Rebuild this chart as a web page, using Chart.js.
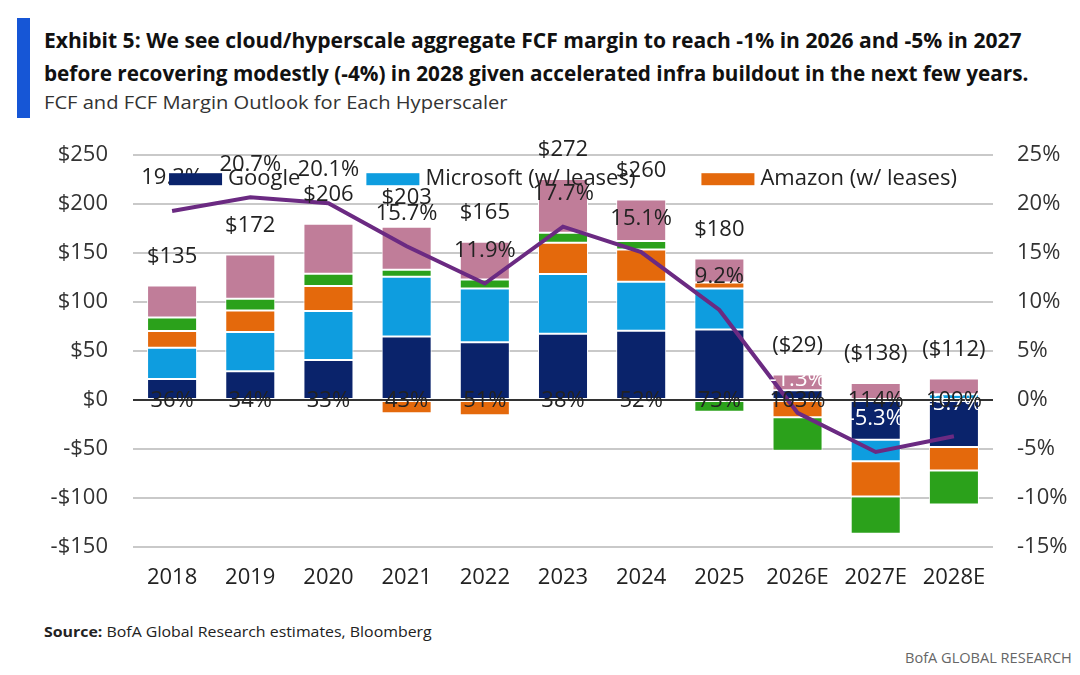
<!DOCTYPE html>
<html>
<head>
<meta charset="utf-8">
<script src="https://cdn.jsdelivr.net/npm/chart.js@4.4.1/dist/chart.umd.min.js"></script>
<style>
  body { margin: 0; background: #fff; width: 1080px; height: 675px; position: relative; overflow: hidden; font-family: 'Open Sans', sans-serif; color: #111; }
  .fit { position: absolute; white-space: nowrap; transform-origin: 0 50%; }
  #accent { position: absolute; left: 17px; top: 18px; width: 13px; height: 100px; background: #1656d6; }
  #t1, #t2 { left: 44px; font-size: 21px; font-weight: 700; line-height: 30px; }
  #t1 { top: 25px; }
  #t2 { top: 58px; }
  #sub { left: 44px; top: 89px; font-size: 19px; line-height: 26px; color: #333; }
  #source { left: 44px; top: 622px; font-size: 14.5px; line-height: 20px; color: #222; }
  #brand { top: 647px; font-size: 15px; line-height: 20px; color: #666; }
  #chartBox { position: absolute; left: 0; top: 117px; width: 1080px; height: 483px; }
</style>
</head>
<body>
<div id="accent"></div>
<div id="t1" class="fit">Exhibit 5: We see cloud/hyperscale aggregate FCF margin to reach -1% in 2026 and -5% in 2027</div>
<div id="t2" class="fit">before recovering modestly (-4%) in 2028 given accelerated infra buildout in the next few years.</div>
<div id="sub" class="fit">FCF and FCF Margin Outlook for Each Hyperscaler</div>
<div id="chartBox"><canvas id="chart"></canvas></div>
<div id="source" class="fit"><b>Source:</b> BofA Global Research estimates, Bloomberg</div>
<div id="brand" class="fit">BofA GLOBAL RESEARCH</div>

<script>
// categories
const years = ['2018', '2019', '2020', '2021', '2022', '2023', '2024', '2025', '2026E', '2027E', '2028E'];

// FCF by company ($bn)
const google    = [21.5, 29.5, 41, 65, 59, 67.7, 70.8, 72, 10, -40.6, -48];
const microsoft = [32, 40, 50, 61, 55, 61, 50, 42, -1, -21.8, 6];
const amazon    = [17, 22, 25.5, -13.5, -15.5, 32, 33, 6, -16.5, -36, -23.8];
const meta      = [13.8, 12, 12.5, 7, 9, 10, 8.6, -12, -34.3, -38, -34.9];
const oracle    = [32.7, 45, 51, 44, 38.6, 55, 42.4, 24.5, 16, 17.5, 16];

// aggregate FCF margin (%), right axis
const fcfMargin = [19.3, 20.7, 20.1, 15.7, 11.9, 17.7, 15.1, 9.2, -1.3, -5.3, -3.7];

// labels printed on the chart
const fcfTotal = [135, 172, 206, 203, 165, 272, 260, 180, -29, -138, -112];
const shareLabels = ['36%', '34%', '33%', '43%', '51%', '38%', '52%', '73%', '103%', '114%', '109%'];

const legendSeries = ['Google', 'Microsoft (w/ leases)', 'Amazon (w/ leases)'];

const barSeries = [google, microsoft, amazon, meta, oracle];
const FONT = '"Open Sans", sans-serif';

function fmtTotal(v) {
  return v < 0 ? '($' + Math.abs(v) + ')' : '$' + v;
}

function fit(id, width, right) {
  const el = document.getElementById(id);
  const w = el.scrollWidth;
  el.style.transform = 'scaleX(' + (width / w) + ')';
  if (right !== undefined) el.style.left = (right - width) + 'px';
}

const annotate = {
  id: 'annotate',
  afterDatasetsDraw(chart) {
    const { ctx, chartArea, scales } = chart;
    const zero = Math.round(scales.y.getPixelForValue(0));
    ctx.save();
    ctx.strokeStyle = '#333';
    ctx.lineWidth = 2;
    ctx.beginPath();
    ctx.moveTo(chartArea.left, zero);
    ctx.lineTo(chartArea.right, zero);
    ctx.stroke();

    ctx.font = '22px ' + FONT;
    ctx.textAlign = 'center';
    ctx.textBaseline = 'middle';
    years.forEach((yr, i) => {
      const cx = scales.x.getPixelForValue(i);
      const top = barSeries.reduce((s, arr) => s + Math.max(arr[i], 0), 0);
      ctx.fillStyle = '#222';
      ctx.fillText(fmtTotal(fcfTotal[i]), cx, scales.y.getPixelForValue(top) - 29);
      ctx.fillStyle = fcfMargin[i] < 0 ? '#fff' : '#222';
      ctx.fillText(fcfMargin[i].toFixed(1) + '%', cx, scales.y1.getPixelForValue(fcfMargin[i]) - 33);
      ctx.fillStyle = '#222';
      ctx.fillText(shareLabels[i], cx, zero + 1);
    });
    ctx.restore();
  },
  afterDraw(chart) {
    // legend sits inside the plot, over the labels
    const { ctx, chartArea } = chart;
    const items = chart.data.datasets.filter(d => legendSeries.includes(d.label));
    const boxW = 53, boxH = 12, gap = 6, spacing = 66;
    ctx.save();
    ctx.font = '22px ' + FONT;
    ctx.textBaseline = 'middle';
    ctx.textAlign = 'left';
    const widths = items.map(d => boxW + gap + ctx.measureText(d.label).width);
    const total = widths.reduce((a, b) => a + b, 0) + spacing * (items.length - 1);
    let lx = (chartArea.left + chartArea.right) / 2 - total / 2;
    const ly = chartArea.top + 24;
    items.forEach((d, k) => {
      ctx.fillStyle = d.backgroundColor;
      ctx.fillRect(lx, ly - boxH / 2, boxW, boxH);
      ctx.fillStyle = '#222';
      ctx.fillText(d.label, lx + boxW + gap, ly);
      lx += widths[k] + spacing;
    });
    ctx.restore();
  }
};

function bar(label, data, color) {
  return {
    type: 'bar', label, data, backgroundColor: color,
    borderColor: '#ffffff', borderWidth: 1, borderSkipped: false,
    stack: 'fcf', order: 1,
    categoryPercentage: 0.8, barPercentage: 0.8
  };
}

function draw() {
  fit('t1', 978);
  fit('t2', 984);
  fit('sub', 464);
  fit('source', 388);
  fit('brand', 167, 1072);

  Chart.defaults.font.family = FONT;
  Chart.defaults.color = '#222';

  new Chart(document.getElementById('chart'), {
    data: {
      labels: years,
      datasets: [
        {
          type: 'line', label: 'FCF margin', data: fcfMargin, yAxisID: 'y1', order: 0,
          borderColor: '#6b2a82', borderWidth: 4, pointRadius: 0, tension: 0, fill: false
        },
        bar('Google', google, '#0a236b'),
        bar('Microsoft (w/ leases)', microsoft, '#0e9ddf'),
        bar('Amazon (w/ leases)', amazon, '#e4690c'),
        bar('Meta', meta, '#2ba11b'),
        bar('Oracle', oracle, '#c07d99')
      ]
    },
    options: {
      responsive: true,
      maintainAspectRatio: false,
      animation: false,
      layout: { padding: { top: 10, left: 0, right: 0, bottom: 0 } },
      plugins: {
        legend: { display: false },
        tooltip: { enabled: false }
      },
      scales: {
        x: {
          stacked: true,
          grid: { display: false, drawTicks: false },
          border: { display: false },
          ticks: { font: { size: 22 }, color: '#222', padding: 18 },
          afterFit(s) { s.height = 53; }
        },
        y: {
          stacked: true,
          min: -150, max: 250,
          ticks: {
            stepSize: 50, padding: 25, font: { size: 22 }, color: '#333',
            callback: v => (v < 0 ? '-$' : '$') + Math.abs(v)
          },
          grid: { color: '#c9c9c9', lineWidth: 2, drawTicks: false },
          border: { display: false },
          afterFit(s) { s.width = 133; }
        },
        y1: {
          position: 'right',
          min: -15, max: 25,
          ticks: {
            stepSize: 5, padding: 24, font: { size: 22 }, color: '#333',
            callback: v => v + '%'
          },
          grid: { drawOnChartArea: false, drawTicks: false },
          border: { display: false },
          afterFit(s) { s.width = 87; }
        }
      }
    },
    plugins: [annotate]
  });
}

if (document.fonts && document.fonts.load) {
  Promise.all([
    document.fonts.load('22px "Open Sans"'),
    document.fonts.load('bold 21px "Open Sans"')
  ]).then(draw, draw);
} else {
  draw();
}
</script>
</body>
</html>
